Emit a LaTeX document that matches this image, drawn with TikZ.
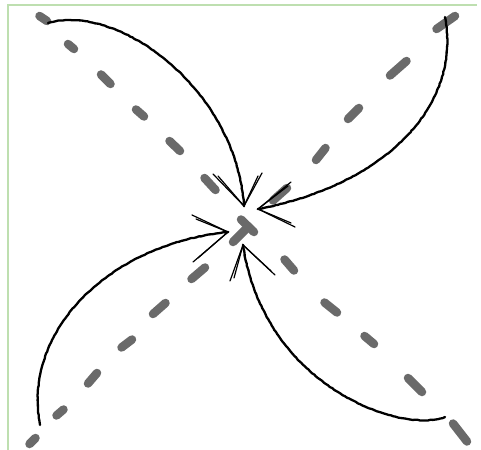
\documentclass[tikz,border=0pt]{standalone}
\usetikzlibrary{decorations.pathmorphing}
\definecolor{framegreen}{HTML}{BEDFB0}
\definecolor{dashgray}{HTML}{6A6A6A}
\tikzset{
  dashseg/.style={draw=dashgray, line width=8.5pt, line cap=round},
  sketch/.style={draw=black, line width=2.3pt, line cap=round, line join=round,
    decorate, decoration={random steps, segment length=2.5pt, amplitude=0.3pt}},
  barb/.style={draw=black, line width=1.2pt, line cap=round},
}
\begin{document}
\begin{tikzpicture}[x=1pt,y=-1pt]
\pgfmathsetseed{7}
\useasboundingbox (0,0) rectangle (481,449);
\fill[white] (0,0) rectangle (481,449);
% frame
\draw[framegreen, line width=2.2pt] (8,460) -- (8,5) -- (477,5);
% dashed diagonal TL-BR
\foreach \ax/\ay/\bx/\by in {
  39.5/16/47/21, 68/44/74/49, 101/74.5/110.5/84, 136/109.5/144/116.5,
  169.5/141/180/151, 204.5/178/215.5/190, 241/219.5/254/232,
  284.5/259.5/294/270.5, 324.5/302.5/337/312.5, 364.5/336/374/344,
  408/378/422/392, 453/423.5/467/441.5}
  \draw[dashseg] (\ax,\ay) -- (\bx,\by);
% dashed diagonal BL-TR
\foreach \ax/\ay/\bx/\by in {
  436.5/29/455/16, 390/75.5/406.5/61, 348/119/359/108, 316/160/325.5/148,
  273/200.5/287/188, 233/242/245.5/229.5, 191.5/279/205/267.5,
  153/314/165.5/303, 121.5/347.5/132/339.5, 88/383.5/97/373,
  56.5/415.5/63.5/409.5, 29.5/444/35.5/438}
  \draw[dashseg] (\ax,\ay) -- (\bx,\by);
% arrow endpoints
\coordinate (s1) at (48,23);   \coordinate (t1) at (244,206);
\coordinate (s2) at (445,17);  \coordinate (t2) at (258,209);
\coordinate (s3) at (40,425);  \coordinate (t3) at (228,232);
\coordinate (s4) at (445,417); \coordinate (t4) at (243,245);
% curved arrows
\draw[sketch] (s1) .. controls (120,3) and (236,90) .. (t1);
\draw[sketch] (s2) .. controls (462,110) and (380,186) .. (t2);
\draw[sketch] (s3) .. controls (22,330) and (110,244) .. (t3);
\draw[sketch] (s4) .. controls (400,434) and (264,386) .. (t4);
% open arrowheads (long thin barbs)
\draw[barb] (t1) -- (213,174); \draw[barb] (t1) -- (262,173);
\draw[barb] (t1) -- (218,176); \draw[barb] (t1) -- (258,176);
\draw[barb] (t2) -- (291,182); \draw[barb] (t2) -- (295,227);
\draw[barb] (t2) -- (288,186); \draw[barb] (t2) -- (291,223);
\draw[barb] (t3) -- (192,215); \draw[barb] (t3) -- (193,262);
\draw[barb] (t3) -- (196,219); \draw[barb] (t3) -- (198,258);
\draw[barb] (t4) -- (230,281); \draw[barb] (t4) -- (275,275);
\draw[barb] (t4) -- (234,278); \draw[barb] (t4) -- (271,271);
\end{tikzpicture}
\end{document}
